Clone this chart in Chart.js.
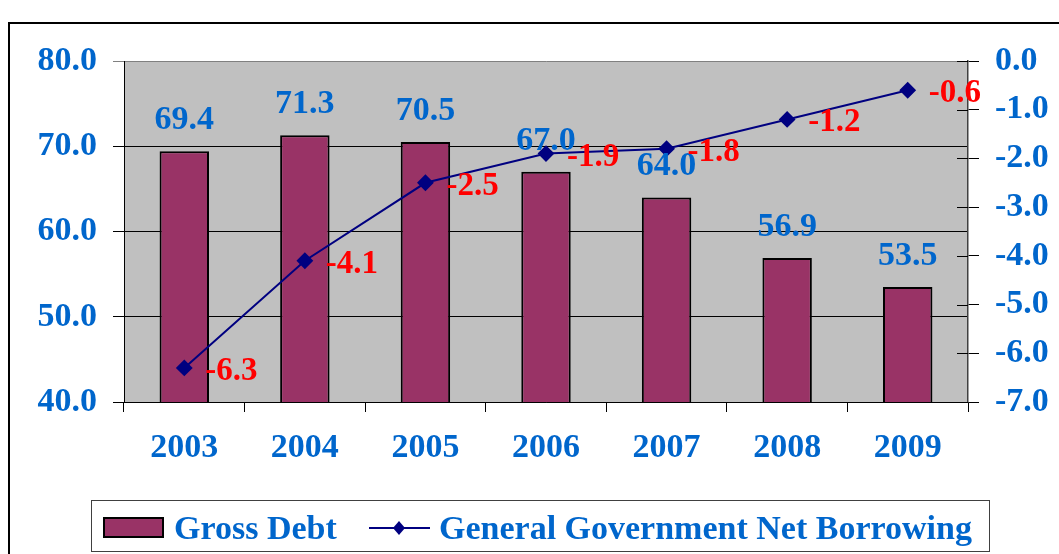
<!DOCTYPE html>
<html>
<head>
<meta charset="utf-8">
<script src="https://cdn.jsdelivr.net/npm/chart.js@4/dist/chart.umd.min.js"></script>
<style>
  html, body { margin: 0; padding: 0; background: #fff; }
  #wrap { width: 1059px; height: 554px; }
</style>
</head>
<body>
<div id="wrap"><canvas id="grafico" width="1059" height="554"></canvas></div>
<script>
// Datos del gráfico
const anios = ['2003', '2004', '2005', '2006', '2007', '2008', '2009'];
const deudaBruta = [69.4, 71.3, 70.5, 67.0, 64.0, 56.9, 53.5];
const endeudamientoNeto = [-6.3, -4.1, -2.5, -1.9, -1.8, -1.2, -0.6];
const ticksIzq = [40, 50, 60, 70, 80];
const ticksDer = [-7, -6, -5, -4, -3, -2, -1, 0];

const AZUL = '#0066CC';
const ROJO = '#FF0000';
const FUENTE = '"Liberation Serif", "Times New Roman", serif';

// fondo blanco, marco y área gris del gráfico
const fondo = {
    id: 'fondo',
    beforeDraw(chart) {
        const { ctx, chartArea: a } = chart;
        ctx.save();
        ctx.fillStyle = '#fff';
        ctx.fillRect(0, 0, chart.width, chart.height);
        ctx.strokeStyle = '#000';
        ctx.lineWidth = 2;
        ctx.strokeRect(9, 23, chart.width + 20, chart.height + 20);
        ctx.fillStyle = '#C0C0C0';
        ctx.fillRect(a.left, a.top, a.right - a.left, a.bottom - a.top);
        ctx.restore();
    },
    // marcas del eje derecho que cruzan hacia dentro
    afterDatasetsDraw(chart) {
        const ctx = chart.ctx;
        const s = chart.scales.y2;
        ctx.save();
        ctx.strokeStyle = '#000';
        ctx.lineWidth = 1;
        s.ticks.forEach(t => {
            const y = Math.round(s.getPixelForValue(t.value)) + 0.5;
            ctx.beginPath();
            ctx.moveTo(s.left - 11, y);
            ctx.lineTo(s.left, y);
            ctx.stroke();
        });
        ctx.restore();
    }
};

// etiquetas de valores sobre barras y a la derecha de los puntos
const etiquetas = {
    id: 'etiquetas',
    afterDatasetsDraw(chart) {
        const ctx = chart.ctx;
        ctx.save();
        ctx.font = 'bold 34px ' + FUENTE;
        ctx.textBaseline = 'alphabetic';
        ctx.textAlign = 'center';
        ctx.fillStyle = AZUL;
        chart.getDatasetMeta(1).data.forEach((el, i) => {
            ctx.fillText(deudaBruta[i].toFixed(1), el.x, el.y - 22);
        });
        ctx.font = 'bold 33px ' + FUENTE;
        ctx.textAlign = 'left';
        ctx.fillStyle = ROJO;
        chart.getDatasetMeta(0).data.forEach((el, i) => {
            ctx.fillText(endeudamientoNeto[i].toFixed(1), el.x + 21, el.y + 12);
        });
        ctx.restore();
    }
};

// leyenda con recuadro
const leyenda = {
    id: 'leyenda',
    afterDraw(chart) {
        const ctx = chart.ctx;
        ctx.save();
        ctx.strokeStyle = '#404040';
        ctx.lineWidth = 1;
        ctx.strokeRect(91.5, 500.5, 898, 51);
        ctx.fillStyle = '#993366';
        ctx.fillRect(104, 518, 59, 19);
        ctx.strokeStyle = '#000';
        ctx.lineWidth = 2;
        ctx.strokeRect(104, 518, 59, 19);
        ctx.strokeStyle = '#000080';
        ctx.beginPath();
        ctx.moveTo(369, 528);
        ctx.lineTo(430, 528);
        ctx.stroke();
        ctx.fillStyle = '#000080';
        ctx.beginPath();
        ctx.moveTo(399, 521);
        ctx.lineTo(405, 528);
        ctx.lineTo(399, 535);
        ctx.lineTo(393, 528);
        ctx.closePath();
        ctx.fill();
        ctx.font = 'bold 34px ' + FUENTE;
        ctx.fillStyle = AZUL;
        ctx.textBaseline = 'alphabetic';
        ctx.fillText('Gross Debt', 174, 539);
        ctx.fillText('General Government Net Borrowing', 439, 539);
        ctx.restore();
    }
};

new Chart(document.getElementById('grafico').getContext('2d'), {
    type: 'bar',
    data: {
        labels: anios,
        datasets: [
            {
                type: 'line',
                label: 'General Government Net Borrowing',
                data: endeudamientoNeto,
                yAxisID: 'y2',
                borderColor: '#000080',
                borderWidth: 2,
                pointStyle: 'rectRot',
                pointRadius: 7,
                pointBackgroundColor: '#000080',
                pointBorderColor: '#000080',
                tension: 0,
                order: 0
            },
            {
                label: 'Gross Debt',
                data: deudaBruta,
                yAxisID: 'y',
                backgroundColor: '#993366',
                borderColor: '#000',
                borderWidth: 2,
                categoryPercentage: 1,
                barPercentage: 0.41,
                order: 1
            }
        ]
    },
    options: {
        responsive: false,
        animation: false,
        devicePixelRatio: 1,
        layout: { padding: { top: 61, bottom: 92, left: 0, right: 0 } },
        plugins: {
            legend: { display: false },
            tooltip: { enabled: false }
        },
        scales: {
            x: {
                grid: { offset: true, drawOnChartArea: false, color: '#000', tickLength: 10 },
                border: { color: '#000', width: 1 },
                ticks: { color: AZUL, font: { family: FUENTE, size: 34, weight: 'bold' }, padding: 16, maxRotation: 0 },
                afterFit(s) { s.height = 60; }
            },
            y: {
                position: 'left',
                min: 40,
                max: 80,
                afterBuildTicks(s) { s.ticks = ticksIzq.map(v => ({ value: v })); },
                grid: {
                    color: c => (c.tick && c.tick.value === 80 ? '#808080' : '#000'),
                    lineWidth: 1,
                    tickLength: 11
                },
                border: { color: '#000', width: 1 },
                ticks: {
                    color: AZUL,
                    font: { family: FUENTE, size: 34, weight: 'bold' },
                    padding: 16,
                    callback: v => Number(v).toFixed(1)
                },
                afterFit(s) { s.width = 124; }
            },
            y2: {
                position: 'right',
                min: -7,
                max: 0,
                afterBuildTicks(s) { s.ticks = ticksDer.map(v => ({ value: v })); },
                grid: { drawOnChartArea: false, color: '#000', tickLength: 11 },
                border: { color: '#404040', width: 1.5 },
                ticks: {
                    color: AZUL,
                    font: { family: FUENTE, size: 34, weight: 'bold' },
                    padding: 16,
                    callback: v => Number(v).toFixed(1)
                },
                afterFit(s) { s.width = 91; }
            }
        }
    },
    plugins: [fondo, etiquetas, leyenda]
});
</script>
</body>
</html>
